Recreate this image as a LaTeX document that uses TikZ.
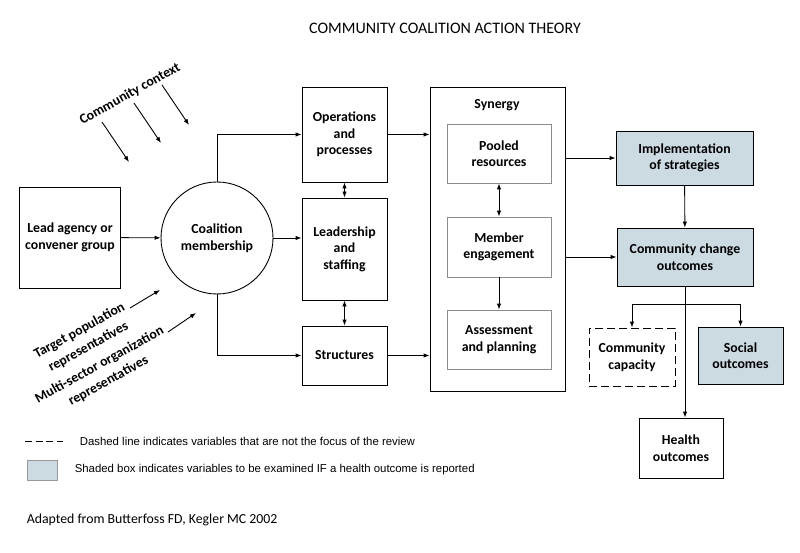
\documentclass[tikz,border=0pt]{standalone}
\usepackage{fontspec}
\setmainfont{Carlito}
\newfontfamily\legendfont{Liberation Sans}
\usetikzlibrary{arrows.meta}
\definecolor{shade}{RGB}{204,218,226}

\begin{document}
\begin{tikzpicture}[x=1pt,y=-1pt,
  >={Latex[length=6pt,width=4.5pt]},
  every path/.style={line width=0.9pt},
  lbl/.style={font=\fontsize{13.8}{16.5}\selectfont\bfseries, align=center},
  box/.style={draw, lbl, inner sep=0pt},
  inbox/.style={box, draw=black!45},
  shbox/.style={box, fill=shade},
  dashbox/.style={box, dash pattern=on 8pt off 4pt},
  tilted/.style={font=\fontsize{13.8}{18.5}\selectfont\bfseries, align=center, rotate=29}]
\useasboundingbox (0,0) rectangle (800,553);

\node at (445,28) {\fontsize{16}{18}\selectfont COMMUNITY COALITION ACTION THEORY};

% left side
\node[box, minimum width=101pt, minimum height=101pt] (lead) at (70,237.5) {Lead agency or\\convener group};
\node[draw, circle, lbl, minimum size=112pt] (memb) at (217,238) {Coalition\\membership};

% middle column
\node[box, minimum width=85pt, minimum height=95pt] (ops) at (344.5,134.5) {Operations\\and\\processes};
\node[box, minimum width=85pt, minimum height=102pt] (staff) at (344.5,249) {Leadership\\and\\staffing};
\node[box, minimum width=85pt, minimum height=59pt] (struct) at (344.5,355.5) {Structures};

% synergy
\node[draw, minimum width=135pt, minimum height=304pt, inner sep=0pt] (syn) at (497.5,239) {};
\node[lbl] (synlbl) at (497,105) {Synergy};
\node[inbox, minimum width=104pt, minimum height=59pt] (pool) at (499,153.5) {Pooled\\resources};
\node[inbox, minimum width=104pt, minimum height=60pt] (engage) at (499,247) {Member\\engagement};
\node[inbox, minimum width=104pt, minimum height=59pt] (assess) at (499,339.5) {Assessment\\and planning};

% outcomes
\node[shbox, minimum width=137pt, minimum height=54pt] (impl) at (684.5,158) {Implementation\\of strategies};
\node[shbox, minimum width=136pt, minimum height=58pt] (change) at (685,257) {Community change\\outcomes};
\node[dashbox, minimum width=86pt, minimum height=58pt] (capac) at (632,357) {Community\\capacity};
\node[shbox, minimum width=85pt, minimum height=57pt] (social) at (740.5,355.5) {Social\\outcomes};
\node[box, minimum width=84pt, minimum height=60pt] (health) at (681,448) {Health\\outcomes};

\draw[->] (lead) -- (memb);
\draw[->] (memb.north) |- (ops.west);
\draw[->] (memb.east) -- (memb.east -| staff.west);
\draw[->] (memb.south) |- (struct.west);
\draw[<->] (ops) -- (staff);
\draw[<->] (staff) -- (struct);
\draw[->] (ops.east) -- (ops.east -| syn.west);
\draw[->] (struct.east) -- (struct.east -| syn.west);
\draw[<->] (pool) -- (engage);
\draw[->] (engage) -- (assess);
\draw[->] (impl.west -| syn.east) -- (impl.west);
\draw[->] (change.west -| syn.east) -- (change.west);
\draw[->] (impl) -- (change);
\draw[->] (change.south) -- (change.south |- health.north);
\coordinate (split) at (685,304);
\draw[->] (split) -| (capac.north);
\draw[->] (split) -| (social.north);

% influences
\node[tilted] (ctx) at (130,94) {Community context};
\foreach \i/\x/\y in {1/102/122, 2/134/103, 3/162/85} {
  \coordinate (ctx\i) at (\x,\y);
  \draw[->] (ctx\i) -- ++(27,40);
}
\node[tilted] (target) at (84,339) {Target population\\representatives};
\coordinate (tgt) at (130,308);
\draw[->] (tgt) -- ++(30,-18);
\node[tilted] (multi) at (104,373) {Multi-sector organization\\representatives};
\coordinate (msr) at (168,332);
\draw[->] (msr) -- ++(28,-19);

% legend
\coordinate (dl) at (25,441);
\draw[dash pattern=on 7pt off 3.5pt, line width=0.8pt] (dl) -- ++(38,0);
\node[anchor=west, font=\legendfont\fontsize{11.4}{13}\selectfont] (legdash) at (76,441) {Dashed line indicates variables that are not the focus of the review};
\node[draw=black!40, fill=shade, minimum width=30pt, minimum height=20pt, inner sep=0pt] (legbox) at (42,470) {};
\node[anchor=west, font=\legendfont\fontsize{11.4}{13}\selectfont] (legshade) at (71,470) {Shaded box indicates variables to be examined IF a health outcome is reported};

\node[anchor=west, font=\fontsize{13.8}{16}\selectfont] (src) at (23,520) {Adapted from Butterfoss FD, Kegler MC 2002};
\end{tikzpicture}
\end{document}
